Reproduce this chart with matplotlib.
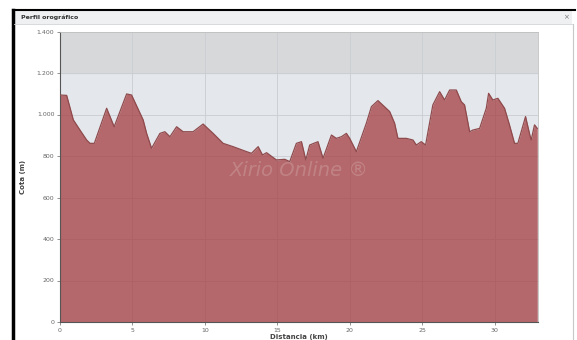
import numpy as np
import matplotlib.pyplot as plt
from matplotlib.patches import Rectangle
from matplotlib.lines import Line2D
from matplotlib.ticker import FuncFormatter

# perfil (km, m)
dist_km = [0.0, 0.46, 0.92, 1.38, 1.84, 2.07, 2.37, 3.22, 3.74, 4.60,
           4.94, 5.74, 5.98, 6.32, 6.90, 7.24, 7.59, 8.05, 8.50, 9.19,
           9.88, 10.57, 11.26, 11.95, 12.88, 13.22, 13.68, 13.98, 14.26, 14.94,
           15.52, 15.86, 16.32, 16.67, 16.97, 17.24, 17.81, 18.16, 18.74, 19.08,
           19.43, 19.77, 20.00, 20.46, 21.15, 21.50, 21.95, 22.76, 23.10, 23.33,
           23.91, 24.37, 24.60, 24.94, 25.24, 25.74, 26.21, 26.55, 26.90, 27.36,
           27.70, 27.93, 28.28, 28.50, 28.97, 29.43, 29.59, 29.88, 30.23, 30.69,
           31.03, 31.38, 31.61, 32.14, 32.41, 32.53, 32.76, 32.95]
cota_m = [1094, 1092, 974, 925, 877, 861, 861, 1030, 941, 1099,
          1094, 974, 909, 837, 909, 917, 893, 941, 917, 917,
          954, 909, 861, 845, 821, 813, 845, 805, 816, 781,
          784, 773, 861, 869, 781, 853, 869, 789, 901, 885,
          893, 909, 885, 821, 958, 1038, 1067, 1014, 958, 885,
          885, 877, 853, 869, 853, 1046, 1110, 1070, 1118, 1118,
          1062, 1046, 917, 925, 933, 1030, 1102, 1070, 1078, 1030,
          950, 861, 861, 990, 909, 877, 950, 933]

x_ticks = [0, 5, 10, 15, 20, 25, 30]
y_ticks = [0, 200, 400, 600, 800, 1000, 1200, 1400]

W, H = 577, 340
fig = plt.figure(figsize=(W / 100, H / 100), dpi=100)

# marco exterior de la ventana
fig.add_artist(Line2D([13 / W, 13 / W], [0, 1 - 10 / H], transform=fig.transFigure,
                      color='black', lw=2.5))
fig.add_artist(Line2D([13 / W, 575 / W], [1 - 10 / H, 1 - 10 / H], transform=fig.transFigure,
                      color='black', lw=1.5))
fig.add_artist(Rectangle((14 / W, 1 - 24 / H), 558 / W, 13 / H, transform=fig.transFigure,
                         facecolor='#eef0f2', edgecolor='none'))
fig.add_artist(Line2D([14 / W, 572 / W], [1 - 24 / H, 1 - 24 / H], transform=fig.transFigure,
                      color='#d0d4d8', lw=0.6))
fig.add_artist(Line2D([573 / W, 573 / W], [0, 1 - 24 / H], transform=fig.transFigure,
                      color='#c8c8c8', lw=0.8))
fig.text(21 / W, 1 - 17 / H, 'Perfil orográfico', fontsize=4.5, fontweight='bold',
         color='#333333', va='center', ha='left')
fig.text(566 / W, 1 - 17 / H, '×', fontsize=5, color='#777777', va='center', ha='center')

ax = fig.add_axes([60 / W, 1 - 322 / H, 478 / W, 290.5 / H])
ax.set_facecolor('#e4e8ec')
ax.axhspan(1200, 1400, color='#d6d8da', zorder=0)
ax.grid(True, color='#c9cdd1', lw=0.6, zorder=1)
ax.set_axisbelow(True)

ax.fill_between(dist_km, cota_m, 0, color='#a63d40', alpha=0.75, lw=0, zorder=2)
ax.plot(dist_km, cota_m, color='#8e4a4c', lw=0.9, zorder=3)

ax.set_xlim(0, 33)
ax.set_ylim(0, 1400)
ax.set_xticks(x_ticks)
ax.set_yticks(y_ticks)
ax.yaxis.set_major_formatter(FuncFormatter(lambda v, p: f'{int(v):,}'.replace(',', '.')))
ax.tick_params(labelsize=4.5, colors='#666666', length=2, width=0.5, pad=2)
for s in ['top', 'right']:
    ax.spines[s].set_color('#c0c0c0')
    ax.spines[s].set_linewidth(0.6)
for s in ['left', 'bottom']:
    ax.spines[s].set_color('#555555')
    ax.spines[s].set_linewidth(0.8)

ax.set_xlabel('Distancia (km)', fontsize=5, fontweight='bold', color='#444444', labelpad=1)
ax.set_ylabel('Cota (m)', fontsize=5, fontweight='bold', color='#444444', labelpad=8)

ax.text(0.5, 0.52, 'Xirio Online ®', transform=ax.transAxes, fontsize=14, style='italic',
        color='#c48a8c', alpha=0.8, ha='center', va='center', zorder=4)

fig.savefig('out.png', dpi=100)
